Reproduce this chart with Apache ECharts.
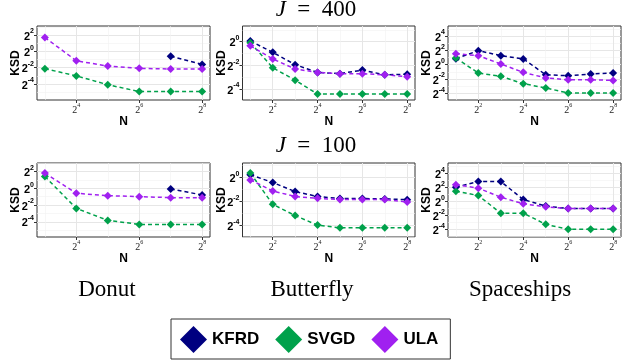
<!DOCTYPE html>
<html><head><meta charset="utf-8">
<script src="https://cdn.jsdelivr.net/npm/echarts@6/dist/echarts.min.js"></script>
<style>html,body{margin:0;padding:0;background:#fff}#c{width:629px;height:364px}</style>
</head><body><div id="c"></div>
<script>
// ---- data (log2 scale values) ----
const methods = ['KFRD', 'SVGD', 'ULA'];
const colors = { KFRD: '#000080', SVGD: '#00A14B', ULA: '#A020F0' };

const donutLog2N = [3, 4, 5, 6, 7, 8];
const otherLog2N = [1, 2, 3, 4, 5, 6, 7, 8];

// J = 400
const donut400_KFRD = [null, null, null, null, -0.6, -1.6];
const donut400_SVGD = [-2.12, -3.0, -4.08, -4.92, -4.92, -4.92];
const donut400_ULA  = [1.7, -1.15, -1.8, -2.08, -2.16, -2.16];

const butterfly400_KFRD = [0.06, -0.9, -1.94, -2.6, -2.7, -2.4, -2.8, -2.75];
const butterfly400_SVGD = [-0.08, -2.2, -3.25, -4.43, -4.43, -4.43, -4.43, -4.43];
const butterfly400_ULA  = [-0.34, -1.46, -2.3, -2.6, -2.7, -2.7, -2.8, -2.96];

const spaceships400_KFRD = [0.84, 1.96, 1.26, 0.8, -1.4, -1.54, -1.3, -1.16];
const spaceships400_SVGD = [0.93, -1.16, -1.63, -2.65, -3.25, -3.95, -3.95, -3.95];
const spaceships400_ULA  = [1.54, 1.26, 0.1, -1.07, -1.85, -2.1, -2.1, -2.2];

// J = 100
const donut100_KFRD = [null, null, null, null, -0.08, -0.8];
const donut100_SVGD = [1.4, -2.4, -3.83, -4.3, -4.3, -4.3];
const donut100_ULA  = [1.8, -0.6, -0.88, -1.0, -1.12, -1.12];

const butterfly100_KFRD = [0.23, -0.42, -1.18, -1.6, -1.77, -1.77, -1.8, -1.86];
const butterfly100_SVGD = [0.37, -2.25, -3.2, -4.0, -4.23, -4.23, -4.23, -4.23];
const butterfly100_ULA  = [-0.2, -1.13, -1.6, -1.75, -1.85, -1.85, -1.85, -2.05];

const spaceships100_KFRD = [2.0, 2.8, 2.8, 0.24, -0.7, -1.05, -1.05, -1.05];
const spaceships100_SVGD = [1.43, 0.8, -1.7, -1.7, -3.3, -4.0, -4.0, -4.0];
const spaceships100_ULA  = [2.35, 1.86, 0.57, -0.37, -0.8, -1.05, -1.05, -1.05];

// tick exponents
const donutXTicks = [4, 6, 8];
const otherXTicks = [2, 4, 6, 8];
const donutYTicks = [2, 0, -2, -4];
const butterflyYTicks = [0, -2, -4];
const spaceshipsYTicks = [4, 2, 0, -2, -4];

const rowTitles = ['400', '100'];
const colTitles = ['Donut', 'Butterfly', 'Spaceships'];

// ---- layout ----
const cols = [
  { left: 37, width: 173, xmin: 2.75, xmax: 8.25, n: donutLog2N, xt: donutXTicks, xm: [3, 5, 7] },
  { left: 242.5, width: 172.5, xmin: 0.65, xmax: 8.35, n: otherLog2N, xt: otherXTicks, xm: [1, 3, 5, 7] },
  { left: 448, width: 173, xmin: 0.65, xmax: 8.35, n: otherLog2N, xt: otherXTicks, xm: [1, 3, 5, 7] }
];
const rows = [{ top: 26, height: 74 }, { top: 163, height: 74 }];

const panels = [
  { r: 0, c: 0, ymin: -5.95, ymax: 3.1, yt: donutYTicks, d: { KFRD: donut400_KFRD, SVGD: donut400_SVGD, ULA: donut400_ULA } },
  { r: 0, c: 1, ymin: -4.93, ymax: 1.33, yt: butterflyYTicks, d: { KFRD: butterfly400_KFRD, SVGD: butterfly400_SVGD, ULA: butterfly400_ULA } },
  { r: 0, c: 2, ymin: -4.93, ymax: 5.4, yt: spaceshipsYTicks, d: { KFRD: spaceships400_KFRD, SVGD: spaceships400_SVGD, ULA: spaceships400_ULA } },
  { r: 1, c: 0, ymin: -5.8, ymax: 3.0, yt: donutYTicks, d: { KFRD: donut100_KFRD, SVGD: donut100_SVGD, ULA: donut100_ULA } },
  { r: 1, c: 1, ymin: -5.0, ymax: 1.22, yt: butterflyYTicks, d: { KFRD: butterfly100_KFRD, SVGD: butterfly100_SVGD, ULA: butterfly100_ULA } },
  { r: 1, c: 2, ymin: -5.1, ymax: 5.44, yt: spaceshipsYTicks, d: { KFRD: spaceships100_KFRD, SVGD: spaceships100_SVGD, ULA: spaceships100_ULA } }
];

const SANS = '"Liberation Sans", Arial, sans-serif';
const SERIF = '"Liberation Serif", "Times New Roman", serif';

function pow2(v) { return '{b|2}{s|' + (v < 0 ? '-' : '') + Math.abs(v) + '}'; }
const yRich = {
  b: { fontSize: 11, fontWeight: 'bold', color: '#000', fontFamily: SANS, lineHeight: 14, verticalAlign: 'bottom' },
  s: { fontSize: 7, fontWeight: 'bold', color: '#000', fontFamily: SANS, lineHeight: 14, verticalAlign: 'top' }
};
const xRich = {
  b: { fontSize: 10, color: '#222', fontFamily: SERIF, lineHeight: 13, verticalAlign: 'bottom' },
  s: { fontSize: 6, color: '#222', fontFamily: SERIF, lineHeight: 13, verticalAlign: 'top' }
};

const hidden = { axisLine: { show: false, onZero: false }, axisTick: { show: false }, axisLabel: { show: false } };

const grid = [], xAxis = [], yAxis = [], series = [];
panels.forEach((p, i) => {
  const col = cols[p.c], row = rows[p.r];
  grid.push({ left: col.left, width: col.width, top: row.top, height: row.height, show: true,
    borderColor: '#333', borderWidth: 1, backgroundColor: 'transparent' });
  const xi = xAxis.length, yi = yAxis.length;
  xAxis.push({ type: 'value', gridIndex: i, min: col.xmin, max: col.xmax, position: 'bottom',
    axisLine: { show: false, onZero: false },
    axisTick: { show: true, length: 3, inside: false, lineStyle: { color: '#333' }, customValues: col.xt },
    axisLabel: { customValues: col.xt, formatter: pow2, rich: xRich, margin: 2 },
    splitLine: { show: true, lineStyle: { color: '#e6e6e6', width: 1 } },
    name: 'N', nameLocation: 'middle', nameGap: 15,
    nameTextStyle: { fontWeight: 'bold', fontSize: 12, color: '#000', fontFamily: SANS } });
  yAxis.push({ type: 'value', gridIndex: i, min: p.ymin, max: p.ymax, position: 'left',
    axisLine: { show: false, onZero: false },
    axisTick: { show: true, length: 3, lineStyle: { color: '#333' }, customValues: p.yt },
    axisLabel: { customValues: p.yt, formatter: pow2, rich: yRich, margin: 3 },
    splitLine: { show: true, lineStyle: { color: '#e6e6e6', width: 1 } },
    name: 'KSD', nameLocation: 'middle', nameGap: 15, nameRotate: 90, nameMoveOverlap: false,
    nameTextStyle: { fontWeight: 'bold', fontSize: 12, color: '#000', fontFamily: SANS } });
  // minor grid axes (odd exponents)
  const ym = [];
  for (let v = Math.ceil(p.ymin); v <= p.ymax; v++) if (Math.abs(v % 2) === 1) ym.push(v);
  xAxis.push(Object.assign({ type: 'value', gridIndex: i, min: col.xmin, max: col.xmax, position: 'top',
    splitLine: { show: true, lineStyle: { color: '#f1f1f1', width: 0.6 } } }, hidden,
    { axisTick: { show: false, customValues: col.xm } }));
  yAxis.push(Object.assign({ type: 'value', gridIndex: i, min: p.ymin, max: p.ymax, position: 'right',
    splitLine: { show: true, lineStyle: { color: '#f1f1f1', width: 0.6 } } }, hidden,
    { axisTick: { show: false, customValues: ym } }));
  methods.forEach(m => {
    const ys = p.d[m];
    const pts = [];
    col.n.forEach((x, k) => { if (ys[k] !== null) pts.push([x, ys[k]]); });
    series.push({ name: m, type: 'line', xAxisIndex: xi, yAxisIndex: yi, data: pts, z: 3,
      symbol: 'diamond', symbolSize: 8, showSymbol: true,
      itemStyle: { color: colors[m] },
      lineStyle: { color: colors[m], width: 1.5, type: [4, 3] },
      animation: false });
  });
});

const graphic = [];
rowTitles.forEach((t, r) => {
  graphic.push({ type: 'text', x: 316, y: r === 0 ? 10 : 146, silent: true,
    style: { text: '{i|J}  =  ' + t, rich: { i: { fontStyle: 'italic', fontFamily: SERIF, fontSize: 23 } },
      fontFamily: SERIF, fontSize: 23, fill: '#000', textAlign: 'center', textVerticalAlign: 'middle' } });
});
const colCenters = [107, 312, 520];
colTitles.forEach((t, c) => {
  graphic.push({ type: 'text', x: colCenters[c], y: 290, silent: true,
    style: { text: t, fontFamily: SERIF, fontSize: 23, fill: '#000', textAlign: 'center', textVerticalAlign: 'middle' } });
});

const chart = echarts.init(document.getElementById('c'), null, { renderer: 'canvas' });
chart.setOption({
  animation: false,
  backgroundColor: '#fff',
  grid, xAxis, yAxis, series, graphic,
  legend: { data: methods, left: 171, top: 319, orient: 'horizontal', icon: 'diamond',
    itemWidth: 27, itemHeight: 27, itemGap: 16, selectedMode: false,
    borderColor: '#333', borderWidth: 1, padding: [7, 12, 6, 9],
    itemStyle: { borderWidth: 0 },
    textStyle: { fontSize: 17, fontWeight: 'bold', color: '#000', fontFamily: SANS } }
});
</script></body></html>
